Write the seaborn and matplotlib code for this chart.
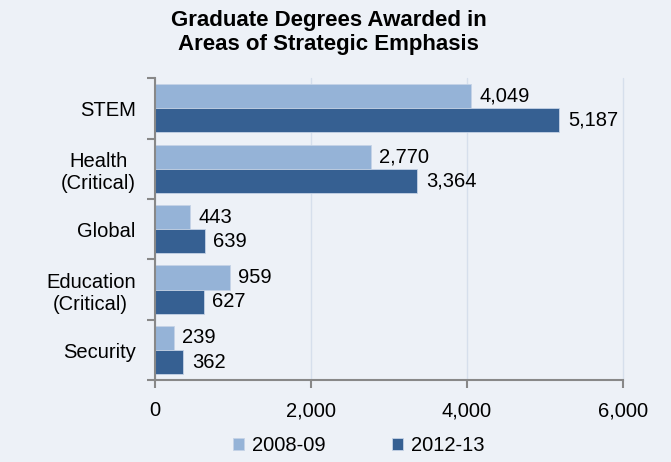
import matplotlib
matplotlib.use("Agg")
import matplotlib.pyplot as plt
import numpy as np
import pandas as pd
import seaborn as sns

categories = ["STEM", "Health\n(Critical)", "Global", "Education\n(Critical)", "Security"]
years = ["2008-09", "2012-13"]
values_2008 = [4049, 2770, 443, 959, 239]
values_2012 = [5187, 3364, 639, 627, 362]
xticks = [0, 2000, 4000, 6000]

bg = "#edf1f7"
colors = ["#95b3d7", "#366092"]
fs = 14.5

df = pd.DataFrame({
    "category": categories * 2,
    "year": [years[0]] * len(categories) + [years[1]] * len(categories),
    "value": values_2008 + values_2012,
})

sns.set_style("white")
plt.rcParams["font.family"] = ["Liberation Sans", "DejaVu Sans"]
plt.rcParams["text.color"] = "black"
plt.rcParams["xtick.color"] = "black"
plt.rcParams["ytick.color"] = "black"

fig = plt.figure(figsize=(6.71, 4.62), dpi=100, facecolor=bg)
ax = fig.add_axes([0.231, 0.177, 0.697, 0.654])
ax.set_facecolor(bg)

sns.barplot(data=df, y="category", x="value", hue="year", order=categories,
            hue_order=years, palette=colors, orient="h", width=0.8,
            saturation=1, ax=ax, legend=True, edgecolor="#c5d3e6", linewidth=0.6)

# data labels
for cont in ax.containers:
    for bar in cont:
        w = bar.get_width()
        ax.text(w + 110, bar.get_y() + bar.get_height() / 2, f"{int(w):,}",
                va="center", ha="left", fontsize=fs, color="black")

ax.set_xlim(0, 6000)
ax.set_ylim(len(categories) - 0.5, -0.5)
ax.set_xticks(xticks)
ax.set_xticklabels([f"{v:,}" for v in xticks], fontsize=fs)
ax.set_yticks(range(len(categories)))
ax.set_yticklabels(categories, fontsize=fs, multialignment="center")
ax.set_yticks(np.arange(-0.5, len(categories), 1), minor=True)
ax.tick_params(axis="y", which="major", length=0, pad=14)
ax.tick_params(axis="y", which="minor", left=True, length=6, width=1.5,
               color="#888888", direction="out")
ax.tick_params(axis="x", bottom=True, length=6, width=1.5, color="#888888",
               labelcolor="black", direction="out", pad=9)
ax.set_xlabel("")
ax.set_ylabel("")

ax.grid(axis="x", color="#d6dfec", linewidth=1, clip_on=False)
ax.set_axisbelow(True)
for s in ["top", "right"]:
    ax.spines[s].set_visible(False)
for s in ["left", "bottom"]:
    ax.spines[s].set_color("#888888")
    ax.spines[s].set_linewidth(1.5)

handles, labels = ax.get_legend_handles_labels()
ax.legend_.remove()
fig.legend(handles, labels, loc="center", bbox_to_anchor=(0.535, 0.035), ncol=2,
           frameon=False, fontsize=fs, handlelength=0.55, handleheight=0.55,
           handletextpad=0.4, columnspacing=3.3)

fig.text(0.49, 0.93, "Graduate Degrees Awarded in\nAreas of Strategic Emphasis",
         ha="center", va="center", fontsize=16, fontweight="bold", linespacing=1.2)

fig.savefig("out.png", dpi=100, facecolor=bg)
